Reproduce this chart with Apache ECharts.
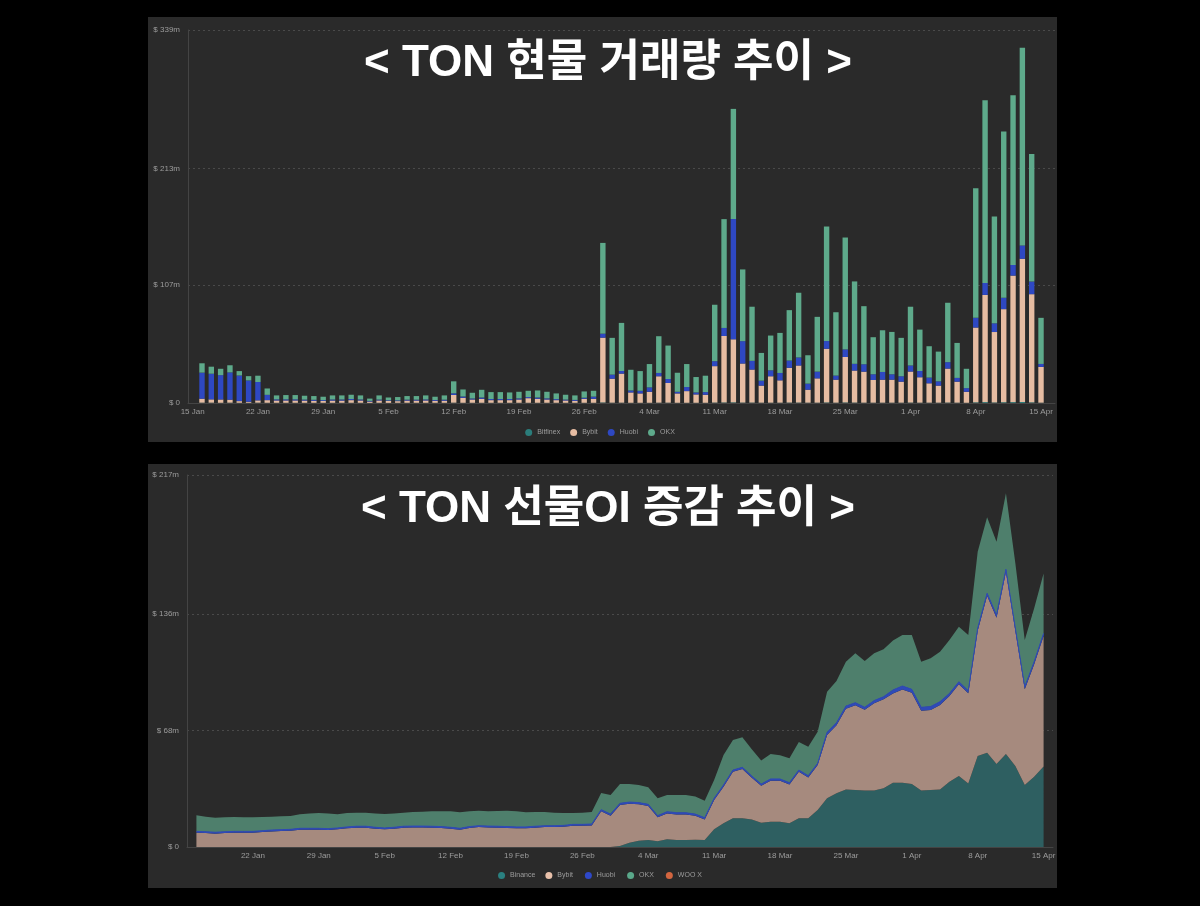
<!DOCTYPE html>
<html lang="ko">
<head>
<meta charset="UTF-8">
<title>TON</title>
<script src="https://cdn.jsdelivr.net/npm/echarts@6/dist/echarts.min.js"></script>
<style>
  html, body { margin: 0; padding: 0; background: #000; }
  .panel { position: absolute; left: 148px; width: 909px; background: #2a2a2a; }
  #main { position: absolute; left: 0; top: 0; width: 1200px; height: 906px; }
</style>
</head>
<body>
<div class="panel" style="top:17px;height:425px"></div>
<div class="panel" style="top:464px;height:424px"></div>
<div id="main"></div>
<script>
    // 16 Jan ~ 15 Apr (91일), 축은 15 Jan ~ 16 Apr
    const MONTHS = ['Jan','Feb','Mar','Apr'];
    let days = [];
    for (let i = 0; i < 93; i++) {
        let d = new Date(2024, 0, 15 + i);
        days.push(d.getDate() + ' ' + MONTHS[d.getMonth()]);
    }

    // 현물 거래량 ($m)
    const bitfinexSpot = [0.3,0.3,0.2,0.3,0.2,0.2,0.3,0.2,0.2,0.2,0.2,0.2,0.2,0.2,0.2,0.2,0.2,0.2,0.1,0.2,0.1,0.2,0.2,0.2,0.2,0.2,0.2,0.3,0.2,0.2,0.2,0.2,0.2,0.2,0.2,0.2,0.2,0.2,0.2,0.2,0.2,0.2,0.2,0.5,0.3,0.3,0.2,0.2,0.2,0.3,0.3,0.2,0.2,0.2,0.2,0.4,0.5,0.6,0.4,0.4,0.3,0.3,0.3,0.4,0.4,0.3,0.3,0.5,0.3,0.5,0.4,0.3,0.3,0.3,0.3,0.3,0.4,0.3,0.3,0.3,0.4,0.3,0.2,0.6,0.8,0.5,0.7,0.8,0.9,0.6,0.3];
    const bybitSpot = [3.6,3.0,3.0,2.7,1.5,0.9,2.1,2.4,2.1,2.1,
        2.1,2.0,1.8,1.6,2.0,2.0,2.4,2.1,1.2,2.1,
        1.8,1.5,2.0,2.0,2.1,1.8,1.9,7.0,4.5,3.0,
        3.6,2.4,2.4,2.4,3.0,4.2,3.6,3.0,2.4,2.1,
        1.8,3.6,3.6,58.9,21.8,26.4,9.4,8.5,10.0,24.0,
        17.9,8.5,10.6,7.6,7.3,33.1,60.4,57.3,35.5,30.0,
        15.5,24.0,20.3,31.6,33.7,11.8,22.1,48.8,20.9,41.3,
        29.1,28.2,20.6,20.9,20.9,19.1,28.2,23.1,17.6,15.5,
        30.9,19.1,10.0,68.0,97.4,64.0,84.6,115.0,130.2,98.3,32.5];
    const huobiSpot = [23.7,23.3,22.1,24.8,23.3,19.4,16.7,4.8,1.0,1.0,
        1.0,0.9,0.9,0.8,1.0,1.0,1.0,0.9,0.6,0.8,
        0.6,0.7,0.8,0.8,0.9,0.7,0.9,1.5,1.2,0.9,
        1.2,1.0,1.0,1.0,1.0,1.0,1.2,1.0,0.9,0.8,
        0.8,1.0,2.0,3.6,3.7,2.4,1.8,2.4,4.0,3.0,
        3.6,1.5,3.7,1.8,2.4,4.5,7.3,109.3,20.3,7.9,
        4.5,5.4,6.7,6.6,7.3,5.5,6.1,7.0,3.7,6.9,
        6.1,6.7,5.2,7.0,4.9,4.9,5.5,5.7,5.2,3.9,
        5.8,3.4,3.3,8.8,10.9,7.9,10.4,9.7,12.1,11.5,2.7];
    const okxSpot = [8.5,6.4,5.8,6.5,4.0,3.9,5.7,5.8,3.6,3.9,
        3.9,3.5,3.4,3.1,3.7,3.7,3.9,3.7,2.1,3.8,
        2.5,3.0,3.3,3.3,3.7,3.0,3.9,10.9,6.4,5.2,
        7.0,6.3,6.3,6.0,6.0,5.7,6.4,6.0,5.2,4.4,
        4.1,5.7,5.3,82.5,33.4,43.7,18.8,17.9,21.2,33.4,
        30.4,17.3,20.9,14.0,14.9,51.3,98.9,100.1,65.2,49.2,
        25.2,31.6,36.4,45.8,58.8,25.8,49.8,104.1,57.6,101.7,
        74.9,52.8,33.7,37.9,38.5,34.9,53.4,37.6,28.5,27.0,
        54.0,31.8,17.6,117.7,166.0,97.1,151.1,154.1,179.6,115.9,41.9];

    // 선물 OI ($m)
    const binanceOI = [0,0,0,0,0,0,0,0,0,0,
        0,0,0,0,0,0,0,0,0,0,
        0,0,0,0,0,0,0,0,0,0,
        0,0,0,0,0,0,0,0,0,0,
        0,0,0,0,0,0.6,2.5,3.7,4.1,3.3,
        4.5,4.1,4.1,4.3,4.1,10.3,13.8,16.7,16.7,16.1,
        14.2,14.8,14.8,13.8,16.7,16.7,21.6,28.4,31.3,33.6,
        33.2,32.9,32.9,34.2,37.5,37.5,36.7,32.9,33.2,33.6,
        38.1,41.4,37.1,53.1,55.0,48.4,54.2,47.2,36.2,41.0,46.9];
    const bybitOI = [8.3,8.1,7.8,8.1,8.3,8.3,8.3,8.7,9.1,9.3,
        9.5,10.1,10.1,10.1,9.9,10.3,10.9,11.3,11.3,10.7,
        10.3,10.7,11.3,11.4,11.4,11.3,11.1,10.7,10.1,11.1,
        11.6,11.4,11.3,11.1,10.9,10.9,11.3,11.6,11.6,11.8,
        12.4,12.4,12.6,20.8,18.2,23.9,22.7,21.2,19.8,14.0,
        15.1,14.9,14.9,13.9,12.0,17.1,21.4,27.2,28.8,24.3,
        21.5,23.9,23.9,22.7,27.2,23.9,26.2,37.0,39.7,47.1,
        49.5,47.1,51.0,52.0,52.1,54.4,53.3,46.6,46.7,49.2,
        50.0,53.5,52.6,73.0,91.5,85.4,106.3,78.9,55.8,65.6,76.2];
    const huobiOI = [0.8,0.8,0.8,0.8,0.8,0.8,0.8,0.8,0.8,0.8,
        0.8,0.8,0.8,0.8,0.8,0.8,0.8,0.8,0.8,0.8,
        0.8,0.8,0.8,0.8,0.8,0.8,0.8,0.8,0.8,0.8,
        0.8,0.8,0.8,0.8,0.8,0.8,0.8,0.8,0.8,0.8,
        0.8,0.8,0.8,1.0,1.0,1.0,1.0,1.0,1.0,1.0,
        1.0,1.0,1.0,1.0,1.0,1.0,1.0,1.0,1.0,1.0,
        1.0,1.0,1.0,1.0,1.0,1.0,1.0,1.5,1.5,1.5,
        1.5,1.5,1.5,1.5,2.0,2.0,2.0,2.0,2.0,2.0,
        1.5,1.5,1.5,1.5,1.5,1.5,1.5,1.5,1.5,1.5,1.5];
    const okxOI = [9.4,8.8,8.5,8.4,8.4,8.2,8.2,8.0,7.8,7.8,
        7.8,8.2,8.7,8.9,8.9,8.0,8.1,7.9,7.9,8.1,
        8.1,8.1,7.9,8.2,8.4,8.7,8.9,9.3,9.3,8.9,
        8.8,8.6,8.9,9.3,9.1,8.5,8.3,8.0,7.6,7.2,
        6.6,6.8,7.0,9.7,11.1,11.2,10.5,10.3,9.9,10.1,
        9.7,10.3,10.3,10.2,9.9,10.7,17.5,17.5,17.5,15.6,
        13.7,14.5,13.8,14.2,16.3,16.9,18.5,23.7,24.3,25.9,
        28.8,27.0,27.6,27.6,28.8,29.8,31.7,26.6,28.2,29.1,
        31.1,32.1,32.5,44.7,44.3,42.8,44.3,37.9,27.2,31.1,35.0];
    const wooOI = [0,0,0,0,0,0,0,0,0,0,0,0,0,0,0,0,0,0,0,0,0,0,0,0,0,0,0,0,0,0,
        0,0,0,0,0,0,0,0,0,0,0,0,0,0,0,0,0,0,0,0,0,0,0,0,0,0,0,0,0,0,
        0,0,0,0,0,0,0,0,0,0,0,0,0,0,0,0,0,0,0,0,0,0,0,0,0,0,0,0,0,0,0];

    const spotTicks = [0, 107, 213, 339];
    const oiTicks = [0, 68, 136, 217];

    // 첫날/마지막날 자리는 비워둠
    function pad(arr) { return [null].concat(arr, [null]); }
    function money(v) { return v === 0 ? '$ 0' : '$ ' + v + 'm'; }

    const FONT = '"Liberation Sans", Arial, sans-serif';
    const TITLE_FONT = '"Liberation Sans", "Noto Sans CJK KR", sans-serif';
    const labelColor = '#9c9c9c';
    const gridLine = { show: true, lineStyle: { color: '#4a4a4a', type: [2, 3], width: 1 } };

    var myChart = echarts.init(document.getElementById('main'), null, { renderer: 'canvas' });
    var option = {
        backgroundColor: 'transparent',
        animation: false,
        title: [
            { text: '< TON 현물 거래량 추이 >', left: 603, top: 37, textAlign: 'center',
              textStyle: { color: '#fff', fontSize: 44, fontWeight: 'bold', fontFamily: TITLE_FONT } },
            { text: '< TON 선물OI 증감 추이 >', left: 603, top: 483, textAlign: 'center',
              textStyle: { color: '#fff', fontSize: 44, fontWeight: 'bold', fontFamily: TITLE_FONT } }
        ],
        legend: [
            { data: ['Bitfinex', 'Bybit', 'Huobi', 'OKX'], left: 'center', top: 424, icon: 'circle',
              itemWidth: 7, itemHeight: 7, itemGap: 10,
              textStyle: { color: labelColor, fontSize: 7, fontFamily: FONT } },
            { data: ['Binance', 'Bybit ', 'Huobi ', 'OKX ', 'WOO X'], left: 'center', top: 867, icon: 'circle',
              itemWidth: 7, itemHeight: 7, itemGap: 10,
              textStyle: { color: labelColor, fontSize: 7, fontFamily: FONT } }
        ],
        grid: [
            { left: 188, right: 145, top: 30, height: 373 },
            { left: 187, right: 147, top: 475, height: 372 }
        ],
        xAxis: [
            { type: 'category', gridIndex: 0, data: days, boundaryGap: true,
              axisLine: { lineStyle: { color: '#444' } }, axisTick: { show: false },
              axisLabel: { interval: 6, color: labelColor, fontSize: 8, margin: 5, fontFamily: FONT } },
            { type: 'category', gridIndex: 1, data: days, boundaryGap: false,
              axisLine: { lineStyle: { color: '#444' } }, axisTick: { show: false },
              axisLabel: { interval: function (i) { return i > 0 && i % 7 === 0; }, color: labelColor, fontSize: 8, margin: 5, fontFamily: FONT } }
        ],
        yAxis: [
            { type: 'value', gridIndex: 0, min: 0, max: 339,
              axisLine: { show: true, lineStyle: { color: '#444' } },
              axisTick: { show: false, customValues: spotTicks },
              axisLabel: { customValues: spotTicks, formatter: money, color: labelColor, fontSize: 8, margin: 8, fontFamily: FONT },
              splitLine: gridLine },
            { type: 'value', gridIndex: 1, min: 0, max: 217,
              axisLine: { show: true, lineStyle: { color: '#444' } },
              axisTick: { show: false, customValues: oiTicks },
              axisLabel: { customValues: oiTicks, formatter: money, color: labelColor, fontSize: 8, margin: 8, fontFamily: FONT },
              splitLine: gridLine }
        ],
        series: [
            { name: 'Bitfinex', type: 'bar', stack: 'spot', barWidth: '58%', data: pad(bitfinexSpot), itemStyle: { color: '#2b7d7b' } },
            { name: 'Bybit', type: 'bar', stack: 'spot', barWidth: '58%', data: pad(bybitSpot), itemStyle: { color: '#e6bca2' } },
            { name: 'Huobi', type: 'bar', stack: 'spot', barWidth: '58%', data: pad(huobiSpot), itemStyle: { color: '#2e48c2' } },
            { name: 'OKX', type: 'bar', stack: 'spot', barWidth: '58%', data: pad(okxSpot), itemStyle: { color: '#5eaa8b' } },

            { name: 'Binance', type: 'line', stack: 'oi', xAxisIndex: 1, yAxisIndex: 1, symbol: 'none', data: pad(binanceOI),
              itemStyle: { color: '#2a8080' }, lineStyle: { width: 0 }, areaStyle: { color: '#2e5f61', opacity: 1 } },
            { name: 'Bybit ', type: 'line', stack: 'oi', xAxisIndex: 1, yAxisIndex: 1, symbol: 'none', data: pad(bybitOI),
              itemStyle: { color: '#e8c0aa' }, lineStyle: { width: 0 }, areaStyle: { color: '#a68a7e', opacity: 1 } },
            { name: 'Huobi ', type: 'line', stack: 'oi', xAxisIndex: 1, yAxisIndex: 1, symbol: 'none', data: pad(huobiOI),
              itemStyle: { color: '#2e48c8' }, lineStyle: { width: 1, color: '#2f4ab8' }, areaStyle: { color: '#2f4ab8', opacity: 1 } },
            { name: 'OKX ', type: 'line', stack: 'oi', xAxisIndex: 1, yAxisIndex: 1, symbol: 'none', data: pad(okxOI),
              itemStyle: { color: '#5aa88a' }, lineStyle: { width: 0 }, areaStyle: { color: '#4e7f6c', opacity: 1 } },
            { name: 'WOO X', type: 'line', stack: 'oi', xAxisIndex: 1, yAxisIndex: 1, symbol: 'none', data: pad(wooOI),
              itemStyle: { color: '#d2653f' }, lineStyle: { width: 0 } }
        ]
    };
    option && myChart.setOption(option);
</script>
</body>
</html>
